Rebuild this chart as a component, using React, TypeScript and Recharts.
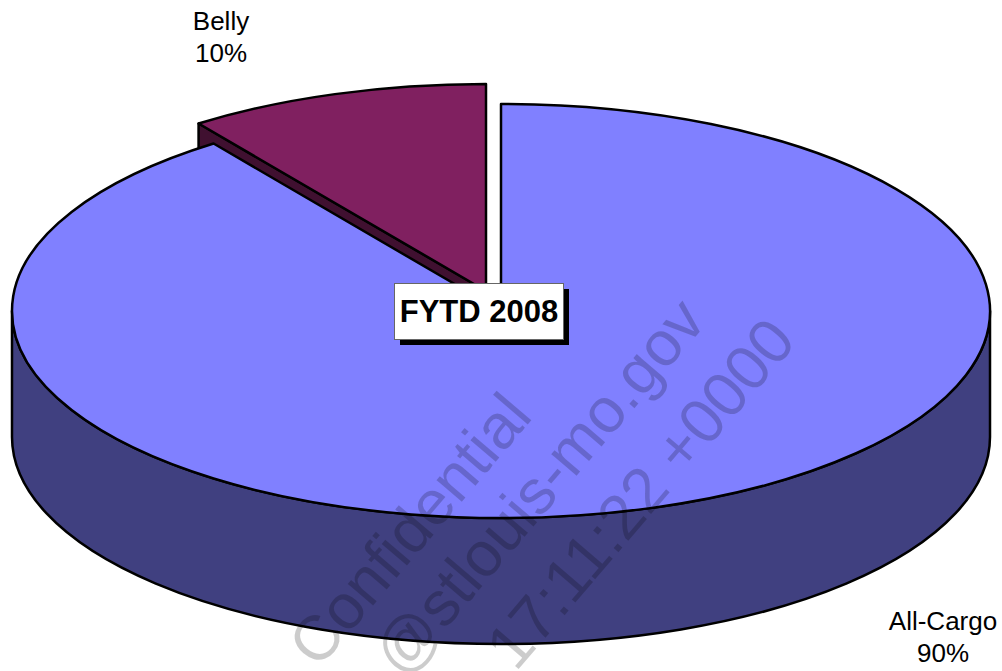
import React from 'react';
import { PieChart, Pie, Cell } from 'recharts';

const categories = ['Belly', 'All-Cargo'];
const shares = [10, 90];
const topColors = ['#802060', '#8080FF'];
const sideColors = ['#401030', '#404080'];
const watermarkLines = ['Confidential', '@stlouis-mo.gov', '17:11:22 +0000'];

const data = categories.map((name, i) => ({ name, value: shares[i], top: topColors[i], side: sideColors[i] }));

const FONT = '"Liberation Sans", Arial, sans-serif';
const TILT = 207 / 489; // ellipse flattening of the pie top
const DEPTH = 126;
const EXPLODE: Record<string, number[]> = { Belly: [-15, -20], 'All-Cargo': [0, 0] };
const LABEL_POS: Record<string, number[]> = { Belly: [221, 30], 'All-Cargo': [943, 630] };
const WATERMARK_POS = [
  [534, 417],
  [708, 322],
  [798, 342],
];

const rad = (a: number) => (a * Math.PI) / 180;

const Slice3D = (props: any) => {
  const { cx, cy, outerRadius: rx, startAngle, endAngle, name, payload } = props;
  const key = name ?? payload?.name;
  const [dx, dy] = EXPLODE[key] || [0, 0];
  const ry = rx * TILT;
  const x0 = cx + dx;
  const y0 = cy + dy;
  const px = (a: number) => x0 + rx * Math.cos(rad(a));
  const py = (a: number) => y0 - ry * Math.sin(rad(a));
  const a0 = Math.min(startAngle, endAngle);
  const a1 = Math.max(startAngle, endAngle);
  const large = a1 - a0 > 180 ? 1 : 0;
  const stroke = { stroke: '#000', strokeWidth: 2.5, strokeLinejoin: 'round' as const };

  // front rim is only seen between 180 and 360 degrees
  const r0 = Math.max(a0, 180);
  const r1 = Math.min(a1, 360);

  return (
    <g>
      {r1 > r0 && (
        <path
          d={`M${px(r0)},${py(r0)} A${rx},${ry} 0 0 0 ${px(r1)},${py(r1)} L${px(r1)},${py(r1) + DEPTH} A${rx},${ry} 0 0 1 ${px(r0)},${py(r0) + DEPTH} Z`}
          fill={payload.side}
          {...stroke}
        />
      )}
      {dx !== 0 && (
        <path
          d={`M${x0},${y0} L${px(a1)},${py(a1)} L${px(a1)},${py(a1) + DEPTH} L${x0},${y0 + DEPTH} Z`}
          fill={payload.side}
          {...stroke}
        />
      )}
      <path
        d={`M${x0},${y0} L${px(a0)},${py(a0)} A${rx},${ry} 0 ${large} 0 ${px(a1)},${py(a1)} Z`}
        fill={payload.top}
        {...stroke}
      />
    </g>
  );
};

const renderLabel = (props: any) => {
  const { name, percent } = props;
  const [x, y] = LABEL_POS[name];
  return (
    <text x={x} y={y} textAnchor="middle" fontFamily={FONT} fontSize={26} fill="#000">
      <tspan x={x}>{name}</tspan>
      <tspan x={x} dy={32}>{`${Math.round(percent * 100)}%`}</tspan>
    </text>
  );
};

export default function App() {
  return (
    <div style={{ position: 'absolute', left: 0, top: 0, width: 1002, height: 671, overflow: 'hidden', background: '#fff' }}>
      <PieChart width={1002} height={671} margin={{ top: 0, right: 0, bottom: 0, left: 0 }}>
        <Pie
          data={data}
          dataKey="value"
          nameKey="name"
          cx={501}
          cy={311}
          outerRadius={489}
          startAngle={90}
          endAngle={450}
          stroke="none"
          shape={Slice3D}
          label={renderLabel}
          labelLine={false}
          isAnimationActive={false}
        >
          {data.map(d => (
            <Cell key={d.name} fill={d.top} />
          ))}
        </Pie>
      </PieChart>
      <svg width={1002} height={671} style={{ position: 'absolute', left: 0, top: 0 }}>
        {watermarkLines.map((line, i) => (
          <text
            key={line}
            x={WATERMARK_POS[i][0]}
            y={WATERMARK_POS[i][1]}
            transform={`rotate(-49.5 ${WATERMARK_POS[i][0]} ${WATERMARK_POS[i][1]})`}
            textAnchor="end"
            fontFamily={FONT}
            fontSize={63}
            fill="rgba(0,0,0,0.2)"
          >
            {line}
          </text>
        ))}
        <rect x={400} y={289} width={169} height={56} fill="#000" />
        <rect x={394.5} y={283.5} width={169} height={56} fill="#fff" stroke="#666" strokeWidth={1} />
        <text x={479} y={322} textAnchor="middle" fontFamily={FONT} fontSize={31} fontWeight="bold" fill="#000">
          FYTD 2008
        </text>
      </svg>
    </div>
  );
}
